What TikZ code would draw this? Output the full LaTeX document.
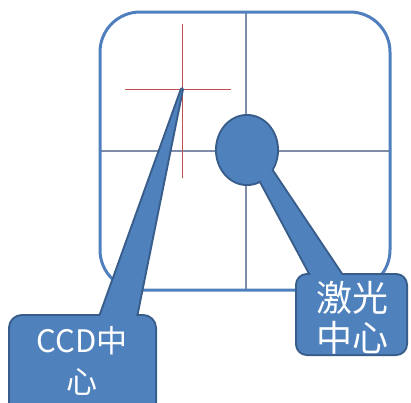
\documentclass[tikz,border=0pt]{standalone}
\usepackage{fontspec}
\setmainfont{Noto Sans CJK SC}
\definecolor{calloutblue}{HTML}{4F81BD}
\definecolor{calloutborder}{HTML}{385D8A}
\definecolor{frameblue}{HTML}{4F7FBC}
\definecolor{gridline}{HTML}{7F8CA8}
\definecolor{crossred}{HTML}{C0504D}
\tikzset{
  frame/.style={draw=frameblue, line width=3pt, rounded corners=40pt},
  gridl/.style={draw=gridline, line width=1.5pt},
  crossl/.style={draw=crossred, line width=1pt},
  outl/.style={draw=calloutborder, line width=4pt, line join=round},
  infill/.style={fill=calloutblue},
  label/.style={text=white, font=\fontsize{31}{41}\selectfont, align=center, inner sep=0pt},
  biglabel/.style={label, font=\fontsize{36}{40}\selectfont}
}
\begin{document}
\begin{tikzpicture}[x=1pt,y=-1pt]
\useasboundingbox (0,0) rectangle (411,402);
% frame and grid
\coordinate (fTL) at (100,12);
\coordinate (fBR) at (390,290);
\coordinate (vTop) at (246,12);
\coordinate (vBot) at (246,290);
\coordinate (hL) at (100,151);
\coordinate (hR) at (390,151);
\draw[gridl] (vTop) -- (vBot);
\draw[gridl] (hL) -- (hR);
\draw[frame] (fTL) rectangle (fBR);
% red cross
\coordinate (ccdc) at (182,89);
\coordinate (cxL) at (125,89);
\coordinate (cxR) at (231,89);
\coordinate (cyT) at (182,24);
\coordinate (cyB) at (182,178);
\draw[crossl] (cxL) -- (cxR);
\draw[crossl] (cyT) -- (cyB);
% CCD callout
\coordinate (ccdA) at (100,317);
\coordinate (ccdB) at (136,317);
\draw[outl, rounded corners=12pt] (10,316) rectangle (155,420);
\draw[outl] (ccdA) -- (ccdc) -- (ccdB) -- cycle;
\fill[infill, rounded corners=12pt] (10,316) rectangle (155,420);
\fill[infill] (ccdA) -- (ccdc) -- (ccdB) -- cycle;
\node[label] (ccd) at (82,361) {CCD中\\心};
% laser callout
\coordinate (lzA) at (258,176);
\coordinate (lzB) at (270,168);
\coordinate (lzC) at (343,277);
\coordinate (lzD) at (312,277);
\draw[outl] (247,150) ellipse [x radius=30, y radius=34];
\draw[outl] (lzA) -- (lzB) -- (lzC) -- (lzD) -- cycle;
\draw[outl, rounded corners=10pt] (297,275) rectangle (406,354);
\fill[infill] (247,150) ellipse [x radius=30, y radius=34];
\fill[infill] (lzA) -- (lzB) -- (lzC) -- (lzD) -- cycle;
\fill[infill, rounded corners=10pt] (297,275) rectangle (406,354);
\node[biglabel] (laser) at (352,318) {激光\\中心};
\end{tikzpicture}
\end{document}
